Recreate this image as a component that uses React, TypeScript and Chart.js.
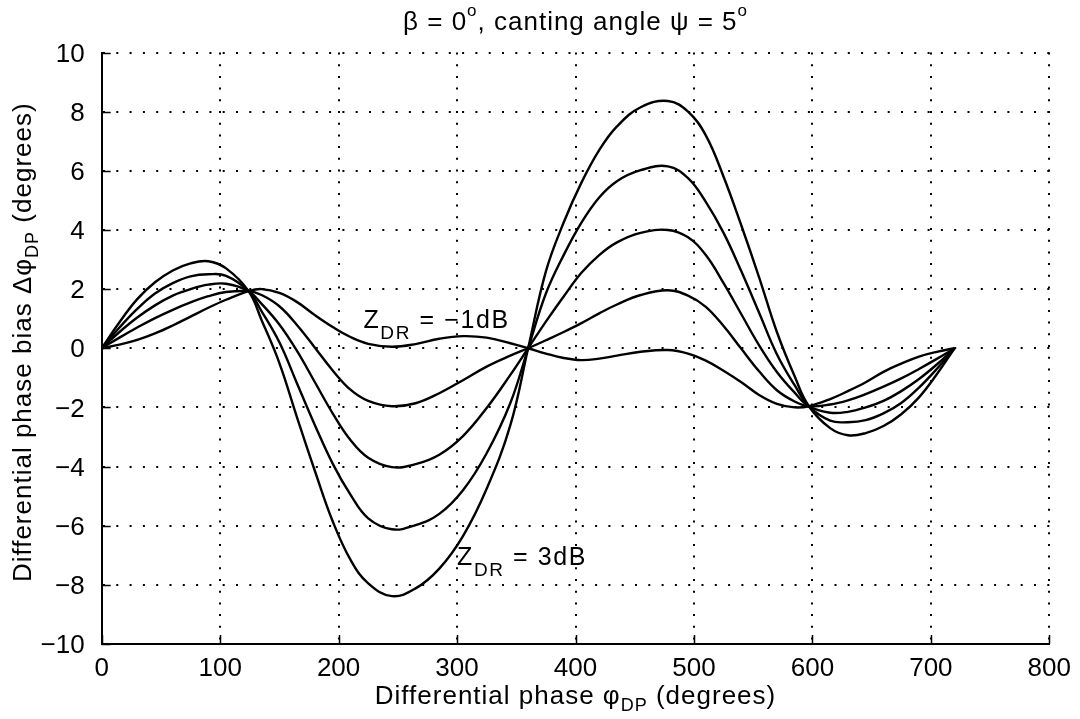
import React, { useEffect, useRef } from 'react';
import { Chart, registerables } from 'chart.js';

Chart.register(...registerables);

const FONT = "'Liberation Sans', Arial, Helvetica, sans-serif";

// Differential phase φDP (degrees)
const PHI = [0, 15, 30, 45, 60, 75, 90, 105, 124, 135, 150, 165, 180, 195, 210, 225, 245, 265, 285, 305, 325, 345, 360, 375, 390, 405, 420, 435, 455, 478, 495, 510, 525, 540, 555, 570, 585, 597, 615, 630, 645, 660, 675, 690, 705, 720];

// Differential phase bias ΔφDP (degrees), one array per ZDR value
const ZDR_3DB = [0, 0.88, 1.66, 2.23, 2.63, 2.87, 2.94, 2.7, 1.93, 0.95, -0.5, -2.35, -4.15, -5.85, -7.15, -7.95, -8.38, -8.12, -7.45, -6.35, -4.75, -2.6, 0, 2.6, 4.25, 5.6, 6.7, 7.5, 8.15, 8.36, 8.0, 7.2, 5.8, 4.15, 2.4, 0.55, -0.95, -1.96, -2.7, -2.94, -2.87, -2.63, -2.23, -1.66, -0.88, 0];
const ZDR_2DB = [0, 0.7, 1.33, 1.85, 2.2, 2.43, 2.5, 2.45, 1.93, 1.25, 0.2, -1.2, -2.6, -3.9, -4.95, -5.75, -6.12, -5.98, -5.6, -4.8, -3.55, -1.85, 0, 1.85, 3.15, 4.25, 5.1, 5.65, 6.02, 6.15, 5.75, 4.95, 3.9, 2.6, 1.2, -0.2, -1.25, -1.96, -2.45, -2.5, -2.43, -2.2, -1.85, -1.33, -0.7, 0];
const ZDR_1DB = [0, 0.55, 1.04, 1.45, 1.78, 2.0, 2.15, 2.18, 1.93, 1.5, 0.8, -0.1, -1.15, -2.2, -3.1, -3.7, -4.02, -3.92, -3.6, -2.97, -2.02, -0.9, 0, 0.9, 1.75, 2.55, 3.15, 3.58, 3.9, 4.0, 3.75, 3.15, 2.2, 1.15, 0.1, -0.8, -1.5, -1.96, -2.18, -2.15, -2.0, -1.78, -1.45, -1.04, -0.55, 0];
const ZDR_0DB = [0, 0.36, 0.7, 1.02, 1.3, 1.55, 1.76, 1.9, 1.93, 1.8, 1.42, 0.78, 0.02, -0.75, -1.4, -1.78, -1.96, -1.86, -1.52, -1.08, -0.62, -0.25, 0, 0.27, 0.55, 0.85, 1.18, 1.48, 1.8, 1.96, 1.78, 1.4, 0.75, -0.02, -0.78, -1.42, -1.8, -1.96, -1.9, -1.76, -1.55, -1.3, -1.02, -0.7, -0.36, 0];
const ZDR_M1DB = [0, 0.12, 0.28, 0.5, 0.77, 1.07, 1.37, 1.64, 1.93, 2.0, 1.87, 1.56, 1.12, 0.72, 0.38, 0.15, 0.05, 0.14, 0.32, 0.41, 0.36, 0.17, 0, -0.18, -0.33, -0.4, -0.35, -0.25, -0.12, -0.06, -0.18, -0.42, -0.76, -1.15, -1.58, -1.88, -2.0, -1.96, -1.72, -1.45, -1.15, -0.8, -0.52, -0.28, -0.12, 0];

const SERIES = [ZDR_3DB, ZDR_2DB, ZDR_1DB, ZDR_0DB, ZDR_M1DB];

const X_MIN = 0;
const X_MAX = 800;
const X_STEP = 100;
const Y_MIN = -10;
const Y_MAX = 10;
const Y_STEP = 2;

// Text annotations: anchor = left edge / baseline of "Z", in data units
const LABEL_M1 = { phi: 221, value: 0.68, text: ' = −1dB' };
const LABEL_3 = { phi: 300, value: -7.33, text: ' = 3dB' };

type Seg = { t: string; size: number; dy: number };

function drawRich(ctx: CanvasRenderingContext2D, segs: Seg[], x: number, y: number, align: 'left' | 'center', rot = 0, spacing = 1) {
  ctx.save();
  ctx.translate(x, y);
  if (rot) ctx.rotate(rot);
  ctx.fillStyle = '#000';
  ctx.textBaseline = 'alphabetic';
  ctx.textAlign = 'left';
  (ctx as any).letterSpacing = spacing + 'px';
  let total = 0;
  const widths = segs.map((s) => {
    ctx.font = `${s.size}px ${FONT}`;
    const w = ctx.measureText(s.t).width;
    total += w;
    return w;
  });
  let cx = align === 'center' ? -total / 2 : 0;
  segs.forEach((s, i) => {
    ctx.font = `${s.size}px ${FONT}`;
    ctx.fillText(s.t, cx, s.dy);
    cx += widths[i];
  });
  ctx.restore();
}

const decorPlugin = {
  id: 'decor',
  afterDraw(chart: any) {
    const ctx: CanvasRenderingContext2D = chart.ctx;
    const { left, right, top, bottom } = chart.chartArea;
    const xs = chart.scales.x;
    const ys = chart.scales.y;
    // inward tick marks (left and bottom)
    ctx.save();
    ctx.strokeStyle = '#000';
    ctx.lineWidth = 1.5;
    ctx.beginPath();
    for (let v = Y_MIN; v <= Y_MAX; v += Y_STEP) {
      const py = Math.round(ys.getPixelForValue(v)) + 0.5;
      ctx.moveTo(left, py);
      ctx.lineTo(left + 9, py);
    }
    for (let v = X_MIN; v <= X_MAX; v += X_STEP) {
      const px = Math.round(xs.getPixelForValue(v)) + 0.5;
      ctx.moveTo(px, bottom);
      ctx.lineTo(px, bottom - 9);
    }
    ctx.stroke();
    ctx.restore();

    const cxm = (left + right) / 2;
    // title
    drawRich(ctx, [
      { t: 'β = 0', size: 26, dy: 0 },
      { t: 'o', size: 17, dy: -14 },
      { t: ', canting angle ψ = 5', size: 26, dy: 0 },
      { t: 'o', size: 17, dy: -14 },
    ], cxm, 30, 'center');
    // x title
    drawRich(ctx, [
      { t: 'Differential phase φ', size: 26, dy: 0 },
      { t: 'DP', size: 18, dy: 7 },
      { t: ' (degrees)', size: 26, dy: 0 },
    ], cxm, 704, 'center');
    // y title
    drawRich(ctx, [
      { t: 'Differential phase bias Δφ', size: 26, dy: 0 },
      { t: 'DP', size: 18, dy: 7 },
      { t: ' (degrees)', size: 26, dy: 0 },
    ], 31, (top + bottom) / 2 - 6, 'center', -Math.PI / 2);
    // annotations
    for (const L of [LABEL_M1, LABEL_3]) {
      drawRich(ctx, [
        { t: 'Z', size: 25, dy: 0 },
        { t: 'DR', size: 19, dy: 11 },
        { t: L.text, size: 25, dy: 0 },
      ], xs.getPixelForValue(L.phi), ys.getPixelForValue(L.value), 'left', 0, 1.6);
    }
  },
};

export default function App() {
  const ref = useRef<HTMLCanvasElement | null>(null);
  useEffect(() => {
    if (!ref.current) return;
    const chart = new Chart(ref.current, {
      type: 'line',
      data: {
        labels: PHI,
        datasets: SERIES.map((s) => ({
          data: s.map((v, i) => ({ x: PHI[i], y: v })),
          borderColor: '#000',
          borderWidth: 2.4,
          pointRadius: 0,
          fill: false,
          tension: 0.4,
        })),
      },
      options: {
        animation: false,
        responsive: false,
        devicePixelRatio: 1,
        layout: { padding: { left: 0, right: 29.5, top: 52.5, bottom: 0 } },
        plugins: { legend: { display: false }, tooltip: { enabled: false }, title: { display: false } },
        scales: {
          x: {
            type: 'linear',
            min: X_MIN,
            max: X_MAX,
            afterFit: (s: any) => { s.height = 75; },
            ticks: {
              stepSize: X_STEP,
              autoSkip: false,
              maxRotation: 0,
              padding: 9,
              color: '#000',
              font: { size: 26, family: FONT },
            },
            grid: { color: '#000', lineWidth: 2, drawTicks: false },
            border: { display: true, color: '#000', width: 2, dash: [2, 9.7] },
          },
          y: {
            type: 'linear',
            min: Y_MIN,
            max: Y_MAX,
            afterFit: (s: any) => { s.width = 101.7; },
            ticks: {
              stepSize: Y_STEP,
              padding: 17,
              labelOffset: 2,
              color: '#000',
              font: { size: 26, family: FONT },
              callback: (v: any) => String(v).replace('-', '−'),
            },
            grid: { color: '#000', lineWidth: 2, drawTicks: false },
            border: { display: true, color: '#000', width: 2, dash: [2, 11.3] },
          },
        },
      },
      plugins: [decorPlugin],
    });
    return () => chart.destroy();
  }, []);
  return (
    <div style={{ position: 'fixed', left: 0, top: 0, width: 1080, height: 719, background: '#fff' }}>
      <canvas ref={ref} width={1080} height={719} style={{ width: 1080, height: 719, display: 'block' }} />
    </div>
  );
}
